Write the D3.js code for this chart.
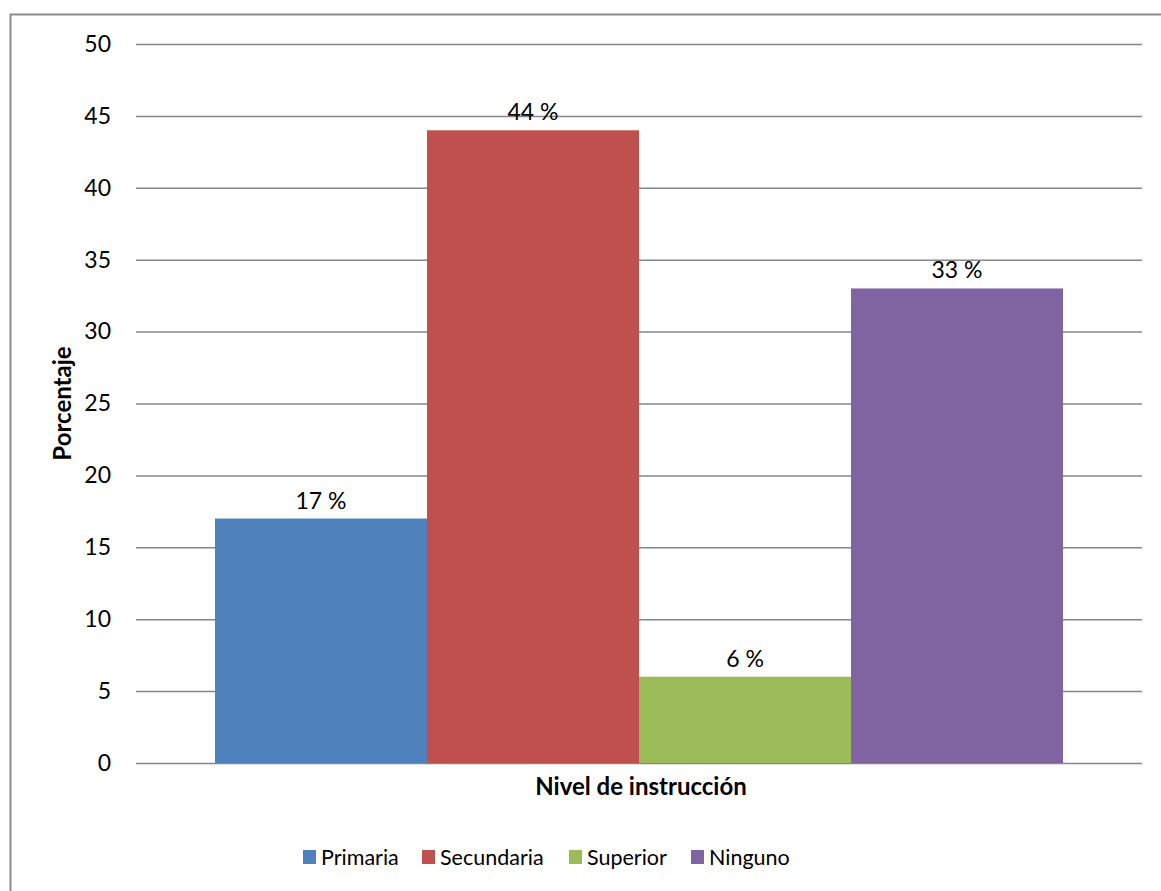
<!DOCTYPE html>
<html>
<head>
<meta charset="utf-8">
<script src="https://cdn.jsdelivr.net/npm/d3@7"></script>
<style>
  body { margin: 0; background: #fff; }
  svg { display: block; font-family: Lato, "Open Sans", sans-serif; }
</style>
</head>
<body>
<svg id="chart" width="1161" height="891"></svg>
<script>
// Nivel de instrucción — porcentaje por categoría
const categories = ["Primaria", "Secundaria", "Superior", "Ninguno"];
const values = [17, 44, 6, 33];
const colors = ["#4f81bd", "#c0504d", "#9bbb59", "#8064a2"];
const yTicks = [0, 5, 10, 15, 20, 25, 30, 35, 40, 45, 50];

const svg = d3.select("#chart");

// outer chart frame
svg.append("rect")
  .attr("x", 10.5).attr("y", 14.5)
  .attr("width", 1170).attr("height", 900)
  .attr("fill", "none").attr("stroke", "#8c8c8c").attr("stroke-width", 2);

const plot = { left: 136, right: 1142, top: 44, bottom: 763 };

const y = d3.scaleLinear().domain([0, 50]).range([plot.bottom, plot.top]);
const x = d3.scaleBand().domain(categories)
  .range([plot.left + 79, plot.right - 79]).paddingInner(0).paddingOuter(0);

// gridlines and value labels on the y axis
const yAxis = d3.axisLeft(y).tickValues(yTicks)
  .tickSize(-(plot.right - plot.left)).tickPadding(25).tickFormat(d3.format("d"));
const gy = svg.append("g").attr("transform", `translate(${plot.left},0)`).call(yAxis);
gy.select(".domain").remove();
gy.selectAll(".tick line").attr("stroke", "#878787").attr("stroke-width", 1.5);
gy.selectAll(".tick text").attr("fill", "#000").attr("font-size", 23)
  .attr("font-family", "Lato, 'Open Sans', sans-serif");

// bars
svg.append("g").selectAll("rect").data(categories).join("rect")
  .attr("x", d => x(d))
  .attr("width", x.bandwidth())
  .attr("y", (d, i) => y(values[i]))
  .attr("height", (d, i) => y(0) - y(values[i]))
  .attr("fill", (d, i) => colors[i]);

// value labels above bars
svg.append("g").selectAll("text").data(categories).join("text")
  .attr("x", d => x(d) + x.bandwidth() / 2)
  .attr("y", (d, i) => y(values[i]) - 10)
  .attr("text-anchor", "middle")
  .attr("font-size", 23).attr("fill", "#000")
  .text((d, i) => `${values[i]} %`);

// axis titles
svg.append("text")
  .attr("x", (plot.left + plot.right) / 2 + 2).attr("y", 795)
  .attr("text-anchor", "middle").attr("font-size", 24).attr("font-weight", "bold")
  .text("Nivel de instrucción");

svg.append("text")
  .attr("transform", `translate(71,${(plot.top + plot.bottom) / 2}) rotate(-90)`)
  .attr("text-anchor", "middle").attr("font-size", 24).attr("font-weight", "bold")
  .text("Porcentaje");

// legend
const legendX = [303, 422, 569, 691];
const lg = svg.append("g").selectAll("g").data(categories).join("g")
  .attr("transform", (d, i) => `translate(${legendX[i]},850)`);
lg.append("rect").attr("width", 13).attr("height", 14).attr("fill", (d, i) => colors[i]);
lg.append("text").attr("x", 18).attr("y", 15).attr("font-size", 21.5).attr("fill", "#000")
  .text(d => d);
</script>
</body>
</html>
